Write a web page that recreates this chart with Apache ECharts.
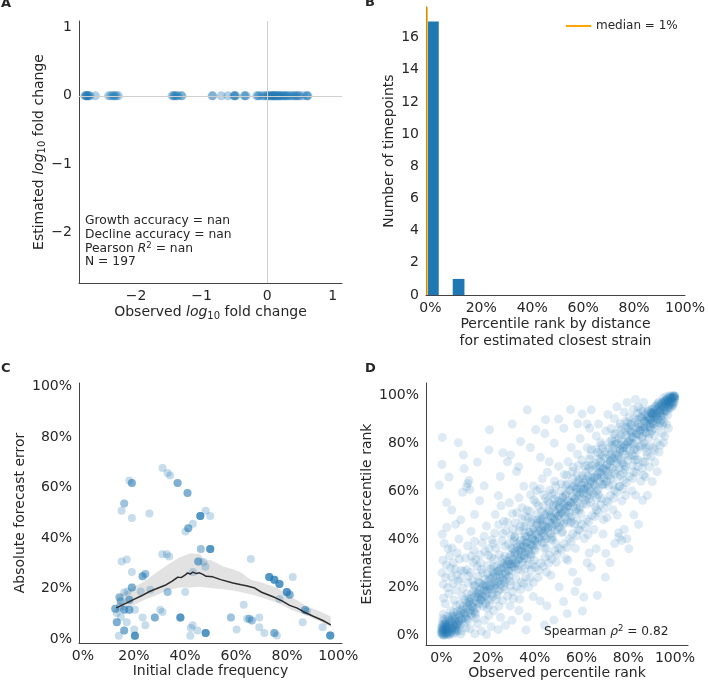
<!DOCTYPE html>
<html><head><meta charset="utf-8">
<script src="https://cdn.jsdelivr.net/npm/echarts@6/dist/echarts.min.js"></script>
<style>html,body{margin:0;padding:0;background:#fff}#c{width:708px;height:684px}</style>
</head><body><div id="c"></div>
<script>
// ---------- Panel A: observed vs estimated log10 fold change ----------
const foldChangePoints = [
[-2.78,0],[-2.77,0],[-2.76,0],[-2.75,0],[-2.74,0],[-2.73,0],[-2.72,0],[-2.70,0],[-2.62,0],
[-2.42,0],[-2.39,0],[-2.36,0],[-2.34,0],[-2.32,0],[-2.30,0],[-2.27,0],
[-1.45,0],[-1.43,0],[-1.42,0],[-1.40,0],[-1.38,0],[-1.36,0],[-1.31,0],[-1.30,0],
[-0.84,0],[-0.83,0],[-0.70,0],[-0.60,0],[-0.51,0],[-0.50,0],[-0.49,0],[-0.48,0],
[-0.35,0],[-0.34,0],[-0.32,0],[-0.16,0],[-0.14,0],[-0.12,0],[-0.08,0],[-0.05,0],[-0.02,0],
[0.00,0],[0.02,0],[0.03,0],[0.05,0],[0.06,0],[0.08,0],[0.09,0],[0.10,0],[0.11,0],[0.12,0],
[0.14,0],[0.15,0],[0.17,0],[0.18,0],[0.20,0],[0.21,0],[0.23,0],[0.25,0],[0.27,0],[0.28,0],
[0.30,0],[0.32,0],[0.35,0],[0.37,0],[0.40,0],[0.42,0],[0.44,0],[0.46,0],[0.48,0],[0.50,0],
[0.55,0],[0.60,0],[0.61,0],[0.62,0]
];
const xTicksA = [-2, -1, 0, 1];
const yTicksA = [-2, -1, 0, 1];

// ---------- Panel B: histogram of percentile ranks ----------
const histBins = [[-0.9, 3.3, 17], [8.8, 13.4, 1]];   // [bin start %, bin end %, timepoints]
const medianLabel = 'median = 1%';
const medianLineX = -1.3;                               // where the median line sits on the axis
const yTicksB = [0, 2, 4, 6, 8, 10, 12, 14, 16];
const pctTicks = [0, 20, 40, 60, 80, 100];

// ---------- Panel C: forecast error vs initial frequency ----------
// [initial clade frequency %, absolute forecast error %, number of overlapping clades]
const cladePoints = [
[31.2,67.8,1],[33.2,65.8,1],[34.2,64.9,1],[18.2,62.9,1],[15.2,50.9,1],[19.2,48.0,1],[26.1,49.8,1],
[48.1,50.9,1],[49.9,48.8,1],[43.1,45.7,1],[40.2,42.7,1],[31.1,33.7,1],[32.9,33.7,1],[33.8,32.8,1],
[15.2,30.8,1],[17.2,31.6,1],[19.2,26.6,1],[47.3,30.6,1],[48.0,28.7,1],[43.1,26.6,1],[16.2,18.5,1],
[17.5,18.9,1],[22.7,18.9,1],[26.4,19.6,1],[40.1,18.7,1],[13.3,10.4,1],[14.6,13.0,1],[20.4,11.7,1],
[14.9,8.8,1],[17.2,6.7,1],[23.4,8.6,1],[30.3,11.7,1],[31.2,10.8,1],[24.5,5.5,1],[14.1,1.4,1],
[20.1,3.8,1],[43.0,5.5,1],[42.3,4.4,1],[44.9,3.5,1],[42.1,1.4,1],[65.8,31.8,1],[82.2,24.6,1],
[77.0,15.9,1],[87.8,11.0,1],[63.0,13.7,1],[64.3,8.1,1],[69.1,8.6,1],[60.2,3.8,1],[69.1,4.7,1],
[71.1,2.5,1],[76.0,1.5,1],[86.1,6.7,1],[93.9,4.7,1],
[16.2,53.8,2],[46.2,35.7,2],[33.2,18.7,2],[58.0,8.6,2],[65.2,8.1,2],[66.2,7.4,2],[14.3,16.6,2],
[14.9,15.0,2],[24.5,25.8,2],
[19.2,61.9,3],[37.1,61.9,3],[41.0,57.9,3],[41.3,44.0,3],[45.2,30.8,3],[23.4,24.9,3],[19.2,20.5,3],
[18.2,15.6,3],[12.7,12.1,3],[16.2,11.7,3],[18.2,11.7,3],[13.3,6.7,3],[28.2,8.6,3],[16.2,3.5,3],
[81.0,17.6,3],[87.0,11.6,3],[75.0,2.5,3],
[46.0,48.8,5],[49.9,35.7,5],[38.2,8.6,5],[20.4,1.4,5],[48.1,2.5,5],[73.0,24.6,5],[75.0,23.6,5],
[77.0,21.9,5],[79.9,18.7,5],[96.9,1.5,5]
];
const rollingMean = [
[13.1,12.4],[16,13.8],[19.6,15.6],[23,17.2],[26.1,18.9],[29.5,20.3],[32.7,21.6],[35,23],[37.2,24.6],
[38.5,24.4],[40,25.4],[41.1,26.3],[42,25.8],[43.1,26.6],[44.5,26.0],[45.7,26.3],[47,25.7],[48.3,24.9],
[50.9,24.7],[54,23.6],[58.8,22.3],[62,21.6],[64,21.2],[67,20.4],[70,18.6],[72,17.8],[75,16.6],
[78,15.2],[81,13.4],[84,12.3],[86.2,11.0],[90,9.2],[94,7.4],[97.1,5.7]
];
// [frequency %, lower %, upper %]
const rollingBand = [
[13.1,10.0,17.2],[18,12.5,19.5],[24,15.5,22.9],[29,17.5,26.5],[33.2,19.5,29.5],[38,20.5,32.5],
[42.3,20.5,34.1],[46,20.8,33.8],[48,20.5,31.0],[50,20.3,31.5],[55,19.8,28.8],[59.3,19.2,27.5],
[62,18.6,26.4],[65.8,17.8,23.6],[70,16.5,22.5],[76.3,14.4,20.3],[82,11.5,16.5],[88,9.3,13.0],
[93,7.0,11.0],[97.1,4.7,9.0]
];

// ---------- Panel D: observed vs estimated percentile rank (sample read off the cloud) ----------
const rankPairs = [
[0.2,0.5],[1.1,0.3],[0.4,1.6],[2.3,0.8],[1.5,2.1],[0.1,3.2],[3.4,0.2],[2.7,2.9],[1.9,4.1],[4.2,1.4],[0.6,5.3],[5.1,0.7],[3.8,3.6],[2.2,5.8],[5.6,2.7],[4.7,4.9],[6.3,1.2],[1.3,6.6],[6.8,3.9],[3.1,7.2],[5.9,5.8],[7.4,6.1],[6.2,7.5],[8.1,4.4],[4.5,8.3],[7.8,8.2],[8.9,6.7],[9.4,9.1],[0.9,2.4],[2.8,1.7],[3.6,4.8],[4.9,3.1],[1.7,0.9],[0.3,4.4],[7.1,2.2],[2.5,7.9],[8.6,1.8],[9.8,5.2],[5.3,9.6],[6.9,9.9],[10.2,7.4],[0.8,8.9],[3.9,10.3],[10.6,3.1],[9.1,10.8],[1.4,3.7],[3.3,2.5],[4.1,6.2],[6.5,4.6],[5.7,1.9],[2.1,3.3],[7.6,5.4],[0.5,6.9],[8.3,9.3],[0.0,0.9],[1.8,1.4],[2.9,0.4],[0.7,2.8],[4.4,2.2],[2.4,4.6],
[0.6,0.4],[1.9,2.6],[0.2,1.9],[3.0,1.2],[1.2,4.4],[4.6,2.9],[2.6,3.8],[5.2,4.3],[3.7,5.6],[0.9,1.1],[2.0,0.2],[0.1,2.7],[6.0,3.3],[3.5,6.4],[1.6,5.1],[4.0,0.9],[7.0,4.8],[4.8,7.1],[0.4,3.8],[2.6,1.3],[1.0,0.0],[0.0,1.4],[5.8,6.6],[3.2,4.1],[1.7,3.0],
[10.3,8.2],[10.8,13.7],[11.2,11.9],[11.5,6.3],[11.9,15.4],[12.3,12.8],[12.6,9.1],[13.0,17.2],[13.4,13.5],[13.7,10.4],[14.1,16.0],[14.4,20.6],[14.8,14.2],[15.1,11.3],[15.5,18.1],[15.8,15.9],[16.2,13.1],[16.5,21.8],[16.9,17.3],[17.2,14.6],[17.6,19.9],[17.9,12.2],[18.3,18.8],[18.7,23.4],[19.0,16.7],[19.4,20.3],[19.8,15.1],[20.1,22.7],[10.5,11.1],[12.0,14.3],[13.2,12.0],[14.6,8.9],[15.9,17.5],[16.7,15.3],[18.0,20.9],[19.2,18.6],[11.7,9.6],[13.9,18.9],[17.4,16.2],[19.6,25.8],
[20.4,19.2],[20.7,14.8],[21.1,23.9],[21.5,21.0],[21.8,17.6],[22.2,26.4],[22.5,22.3],[22.9,19.5],[23.3,24.8],[23.6,28.9],[24.0,22.1],[24.3,18.4],[24.7,26.9],[25.1,24.2],[25.4,21.3],[25.8,30.2],[26.1,25.7],[26.5,22.8],[26.9,28.4],[27.2,33.1],[27.6,26.3],[27.9,23.6],[28.3,29.8],[28.7,27.1],[29.0,24.5],[29.4,32.6],[29.7,29.9],[30.1,26.8],[20.9,20.6],[22.0,24.5],[23.1,21.4],[24.5,25.3],[25.6,27.8],[26.7,20.4],[27.8,29.2],[28.9,31.0],[21.3,27.7],[23.8,16.9],[26.3,31.9],[29.2,22.7],
[30.4,31.8],[30.8,35.9],[31.1,28.6],[31.5,33.4],[31.9,30.1],[32.2,38.2],[32.6,33.7],[33.0,29.3],[33.3,35.5],[33.7,32.4],[34.1,39.6],[34.4,34.9],[34.8,30.7],[35.1,37.1],[35.5,33.3],[35.9,41.4],[36.2,36.6],[36.6,32.0],[37.0,38.9],[37.3,35.2],[37.7,43.1],[38.1,38.0],[38.4,33.8],[38.8,40.5],[39.1,37.3],[39.5,44.8],[39.9,39.7],[40.2,35.4],[30.6,29.8],[31.7,35.0],[32.9,31.6],[34.0,36.8],[35.3,31.9],[36.4,38.4],[37.5,34.0],[38.6,41.9],[39.7,36.1],[31.3,40.7],[33.9,27.2],[36.9,29.5],
[40.5,42.3],[40.9,46.8],[41.3,39.1],[41.6,44.0],[42.0,40.6],[42.4,48.5],[42.7,43.9],[43.1,38.7],[43.5,45.9],[43.8,42.0],[44.2,50.3],[44.6,45.4],[44.9,40.2],[45.3,47.6],[45.7,43.5],[46.0,52.0],[46.4,47.1],[46.8,42.4],[47.1,49.3],[47.5,45.6],[47.9,54.2],[48.2,48.7],[48.6,43.8],[49.0,51.1],[49.3,47.2],[49.7,55.9],[50.1,50.0],[50.4,45.1],[40.7,37.6],[41.9,43.2],[43.0,47.9],[44.1,41.3],[45.4,44.6],[46.6,49.9],[47.7,41.1],[48.8,46.1],[49.9,52.6],[42.9,51.7],[45.0,36.4],[48.4,56.8],
[50.6,52.9],[51.0,47.0],[51.4,55.6],[51.7,50.8],[52.1,46.3],[52.5,54.4],[52.8,49.5],[53.2,58.3],[53.6,53.1],[53.9,48.1],[54.3,56.2],[54.7,51.4],[55.0,60.4],[55.4,55.3],[55.8,49.9],[56.1,58.0],[56.5,53.6],[56.9,62.1],[57.2,57.0],[57.6,51.8],[58.0,59.6],[58.3,55.7],[58.7,64.0],[59.1,58.9],[59.4,53.5],[59.8,61.2],[60.2,57.4],[60.5,65.3],[50.9,50.6],[52.0,57.8],[53.1,51.7],[54.4,53.9],[55.6,47.4],[56.7,55.5],[57.8,60.9],[58.9,52.2],[60.0,62.8],[51.6,42.8],[54.0,63.0],[57.0,46.5],
[60.8,59.1],[61.2,63.7],[61.6,56.4],[61.9,61.5],[62.3,58.2],[62.7,66.4],[63.0,61.9],[63.4,57.0],[63.8,64.6],[64.1,60.1],[64.5,68.7],[64.9,63.5],[65.2,59.0],[65.6,66.0],[66.0,62.3],[66.3,70.2],[66.7,65.8],[67.1,60.6],[67.4,67.9],[67.8,64.2],[68.2,72.5],[68.5,67.3],[68.9,62.8],[69.3,69.4],[69.6,65.7],[70.0,73.9],[70.4,69.0],[70.7,64.3],[61.0,61.1],[62.1,54.7],[63.2,60.3],[64.4,65.9],[65.5,62.9],[66.6,57.3],[67.6,70.8],[68.7,66.1],[69.8,63.1],[62.5,70.9],[65.9,53.6],[68.0,75.8],
[71.0,71.6],[71.4,66.9],[71.8,75.3],[72.1,70.4],[72.5,65.2],[72.9,74.1],[73.2,69.6],[73.6,77.9],[74.0,72.7],[74.3,67.5],[74.7,76.2],[75.1,71.8],[75.4,80.1],[75.8,75.0],[76.2,69.9],[76.5,77.6],[76.9,73.3],[77.3,81.7],[77.6,76.8],[78.0,71.2],[78.4,79.5],[78.7,75.6],[79.1,83.4],[79.5,78.2],[79.8,73.0],[80.2,81.0],[80.6,76.9],[80.9,85.2],[71.2,68.4],[72.3,73.0],[73.4,62.9],[74.5,79.7],[75.6,73.6],[76.7,66.8],[77.8,78.4],[78.9,70.4],[79.9,80.5],[73.0,81.3],[76.0,62.1],[79.3,86.9],
[81.3,80.3],[81.7,75.2],[82.1,84.6],[82.4,79.9],[82.8,74.6],[83.2,86.7],[83.5,81.5],[83.9,77.3],[84.3,88.1],[84.6,83.6],[85.0,78.8],[85.4,87.2],[85.7,82.9],[86.1,90.4],[86.5,85.8],[86.8,80.2],[87.2,89.3],[87.6,84.7],[87.9,91.6],[88.3,87.5],[88.7,82.4],[89.0,90.8],[89.4,86.9],[89.8,93.0],[81.5,83.0],[82.6,77.6],[83.7,84.0],[84.9,85.6],[86.0,79.4],[87.0,86.3],[88.1,89.9],[89.2,84.1],[90.2,88.4],[81.0,88.2],[84.0,73.4],[86.3,93.5],[88.9,78.9],[90.0,92.4],[82.0,70.9],[85.2,91.0],
[5.3,7.9],[6.1,4.2],[6.8,8.7],[7.5,5.9],[8.2,10.4],[8.8,7.1],[9.5,12.2],[10.1,9.3],[10.9,6.8],[11.6,13.9],[12.2,10.6],[12.9,15.5],[13.5,11.8],[14.2,9.7],[14.9,17.3],[15.6,13.4],[16.3,18.9],[16.9,14.7],[17.7,21.2],[18.4,16.1],[19.1,20.7],[19.8,17.9],[20.5,23.8],[21.2,19.4],[21.9,16.2],[22.6,25.7],[23.3,20.9],[24.0,26.8],[24.7,22.6],[25.4,28.3],[6.5,2.1],[9.9,14.8],[13.1,8.1],[16.0,22.4],[18.9,13.2],[22.3,28.6],[24.9,19.1],[7.9,12.9],[11.0,17.4],[14.0,20.9],
[26.1,24.0],[26.8,29.9],[27.5,25.4],[28.2,31.3],[28.9,26.8],[29.6,33.5],[30.3,28.7],[31.0,34.6],[31.7,30.2],[32.4,36.8],[33.1,31.6],[33.8,37.9],[34.5,33.4],[35.2,39.7],[35.9,34.8],[36.6,41.2],[37.3,36.3],[38.0,42.9],[38.7,37.7],[39.4,44.1],[40.1,39.5],[40.8,45.9],[41.5,40.8],[42.2,47.4],[42.9,42.5],[43.6,48.8],[44.3,43.9],[45.0,50.6],[27.0,21.9],[30.0,36.4],[32.7,27.5],[35.6,42.7],[38.3,32.9],[41.2,48.3],[44.0,38.8],[29.3,29.7],[34.2,35.8],[39.0,40.6],[43.3,45.2],[36.0,39.0],
[45.7,45.3],[46.4,51.5],[47.1,46.6],[47.8,53.2],[48.5,48.1],[49.2,54.6],[49.9,49.7],[50.6,56.3],[51.3,51.2],[52.0,57.4],[52.7,52.6],[53.4,59.1],[54.1,54.0],[54.8,60.8],[55.5,55.4],[56.2,62.0],[56.9,56.9],[57.6,63.7],[58.3,58.3],[59.0,65.1],[59.7,59.6],[60.4,66.6],[61.1,61.2],[61.8,68.0],[62.5,62.5],[63.2,69.7],[63.9,64.0],[64.6,71.1],[46.9,40.5],[49.6,44.1],[52.4,46.9],[55.1,49.3],[57.9,52.8],[60.6,55.0],[63.4,58.5],[48.0,49.4],[53.0,55.1],[58.0,61.6],[62.0,64.9],[50.5,53.7],
[65.3,65.4],[66.0,71.9],[66.7,66.8],[67.4,73.6],[68.1,68.2],[68.8,74.8],[69.5,69.7],[70.2,76.5],[70.9,71.1],[71.6,77.9],[72.3,72.6],[73.0,79.3],[73.7,74.0],[74.4,80.8],[75.1,75.5],[75.8,82.2],[76.5,76.9],[77.2,83.6],[77.9,78.4],[78.6,85.0],[79.3,79.8],[80.0,86.4],[80.7,81.3],[81.4,87.6],[82.1,82.7],[82.8,88.9],[83.5,84.2],[84.2,90.1],[66.4,60.2],[69.2,63.0],[71.9,66.3],[74.7,68.9],[77.5,72.0],[80.3,74.8],[83.1,78.1],[68.0,70.0],[72.7,75.9],[76.8,79.3],[81.2,84.5],[84.6,86.8],
[85.2,85.6],[85.9,91.2],[86.6,87.0],[87.3,92.3],[88.0,88.4],[88.7,93.4],[89.4,89.8],[90.1,94.4],[90.8,91.1],[91.5,95.3],[92.2,92.5],[92.9,96.1],[93.6,93.8],[94.3,96.9],[95.0,95.1],[95.7,97.7],[96.4,96.3],[97.1,98.4],[97.8,97.6],[98.5,99.2],[86.1,82.3],[87.7,84.5],[89.3,86.6],[90.9,88.3],[92.5,90.0],[94.1,91.7],[95.7,93.5],[97.3,95.2],[98.9,97.1],[99.7,99.3],[86.9,89.4],[88.6,90.9],[90.3,92.7],[92.0,94.3],[93.7,95.6],[95.4,96.8],[97.0,97.3],[98.2,98.9],[99.2,99.4],[99.9,99.8],
[99.8,99.6],[99.3,99.9],[98.7,99.1],[99.9,98.4],[98.1,98.6],[97.6,99.4],[98.9,97.5],[97.2,97.8],[96.5,98.3],[97.9,96.4],[96.0,96.9],[95.4,97.6],[96.8,95.2],[95.1,95.5],[94.3,96.2],[95.7,93.9],[94.0,94.4],[93.2,95.1],[94.8,92.7],[93.5,92.9],[92.4,94.0],[93.9,91.3],[92.0,92.1],[91.1,93.2],[92.7,90.4],[91.5,90.9],[90.4,91.8],[91.8,88.9],[90.8,89.6],[89.6,90.2],[99.5,98.8],[98.3,99.8],[97.0,98.9],[98.6,96.1],[96.3,99.6],[99.0,95.7],[95.9,98.1],[97.4,94.6],[94.6,97.3],[96.6,93.5],[93.1,97.4],[95.3,91.4],[91.9,95.8],[94.2,89.8],[90.6,94.5],[93.6,88.6],[89.9,92.9],[92.9,87.4],[89.3,88.3],[91.3,86.2],[100.0,100.0],[99.6,97.2],[97.7,100.0],[98.4,95.0],[95.0,99.0],[96.9,91.9],[92.6,96.7],[94.7,87.9],[88.5,94.1],[90.1,85.4],[99.1,100.0],[100.0,99.0],[98.0,97.0],[96.2,97.5],[97.3,96.0],[95.6,94.8],[93.8,93.6],[92.2,91.4],[90.9,92.6],[99.4,96.5],
[1.6,13.2],[3.2,17.4],[0.8,21.3],[4.3,24.6],[2.1,29.4],[5.4,14.7],[6.2,18.8],[0.3,26.1],[3.4,33.2],[7.3,22.6],[1.2,38.4],[5.1,30.3],[8.4,27.1],[0.4,42.2],[4.6,36.5],[9.2,19.7],[6.7,34.4],[2.3,45.1],[7.5,40.2],[10.3,32.3],[12.4,26.2],[11.2,37.4],[13.6,30.5],[15.3,28.7],[14.2,39.3],[16.4,33.6],[18.3,41.4],[17.1,27.5],[12.7,43.4],[20.4,36.2],[19.3,45.6],[22.2,38.3],[24.5,46.2],[21.4,32.6],[23.1,50.4],[26.3,42.5],[28.2,47.3],[25.5,54.1],[27.4,37.2],[30.6,44.4],[32.3,51.2],[29.1,55.3],[31.4,41.2],[34.5,48.6],[33.2,57.4],[36.7,52.3],[35.3,45.3],[38.2,58.7],[37.4,49.1],[40.5,55.4],[42.3,61.2],[39.4,62.3],[44.6,57.2],[43.2,65.4],[46.3,60.6],[45.4,68.1],[48.5,64.3],[50.2,70.5],[47.3,59.2],[52.6,67.1],[54.2,72.4],[51.3,63.3],[56.4,70.2],[58.3,75.6],[55.6,78.4],[60.2,73.2],[62.5,78.3],[59.4,82.1],[64.2,77.5],[66.3,83.2],[63.5,86.4],[68.2,80.6],[70.4,85.3],[67.3,88.2],[72.6,86.3],[74.1,90.4],[71.3,92.2],[76.6,88.4],[78.3,93.2],[75.2,95.4],[80.4,91.1],[82.2,94.3],[79.5,97.2],[84.3,95.2],[83.1,98.4],[86.6,97.3],
[8.8,16.4],[11.4,21.9],[15.6,24.7],[19.9,29.3],[24.8,33.7],[28.6,38.1],[33.4,43.6],[38.9,48.2],[43.7,53.9],[48.1,58.8],[53.3,62.7],[58.1,67.3],[63.6,73.4],[69.1,78.2],[74.4,83.9],[79.7,88.6],[85.5,94.1],[6.4,12.5],[13.3,22.8],[17.7,26.1],[22.6,31.8],[31.0,39.4],[36.1,45.7],[41.1,50.6],[46.2,55.3],[51.2,60.2],[56.3,65.4],[61.4,70.6],[66.9,76.4],[72.0,80.8],[77.1,85.7],[82.5,90.6],
[0.9,15.6],[2.7,19.9],[4.9,21.7],[1.8,24.3],[6.6,25.2],[3.9,28.1],[8.1,23.5],[0.6,31.4],[5.8,27.6],[9.6,26.8],[2.9,36.2],[7.7,31.9],[10.9,27.4],[12.8,33.1],[11.6,24.8],[14.7,31.7],[13.9,35.6],[16.8,30.2],[18.6,35.1],[17.5,38.6],[20.1,33.4],[21.7,39.9],[23.4,36.4],[22.8,42.7],[25.9,39.5],[27.6,43.8],[26.7,47.6],[29.8,41.6],[31.6,46.9],[30.4,50.8],[33.7,45.4],[35.8,49.6],[34.6,53.3],[37.9,51.8],[39.6,56.5],[38.3,47.2],[41.5,54.1],[43.9,58.6],[40.9,60.4],[45.6,56.1],
[48.9,62.3],[53.7,66.8],[58.8,70.9],[63.9,75.1],[68.7,79.4],[73.8,84.1],[78.8,89.2],[83.9,92.7],[56.1,68.4],[66.1,77.8],[76.1,86.9],
[8.3,0.6],[12.2,2.8],[15.4,4.9],[14.3,0.7],[18.5,6.3],[20.3,8.4],[17.2,1.8],[22.4,10.3],[24.6,12.2],[21.3,3.6],[26.2,14.5],[28.4,16.3],[25.3,7.6],[30.5,18.2],[32.2,20.4],[29.4,12.3],[34.3,22.2],[36.1,24.5],[33.5,15.2],[38.4,27.3],[40.2,28.4],[37.3,20.1],[42.5,30.2],[44.3,32.6],[41.4,24.2],[46.2,33.4],[48.5,35.2],[45.1,26.3],[50.3,36.4],[52.4,38.2],[49.2,30.5],[54.6,40.3],[56.2,42.4],[53.3,32.1],[58.5,44.2],[60.1,46.3],[57.4,36.3],[62.3,48.4],[64.6,50.1],[61.2,40.4],[66.4,52.3],[68.2,54.5],[65.3,44.2],[70.6,56.1],[72.3,58.4],[69.4,48.3],[74.1,60.5],[76.4,62.2],[73.5,52.4],[78.2,64.6],[80.5,66.3],[77.3,56.1],[82.4,68.2],[84.1,70.5],[81.6,60.3],[86.3,72.4],[88.2,75.1],[85.4,64.3],[90.6,78.2],[92.3,80.4],[89.1,70.2],[94.5,84.3],[93.2,76.5],[96.4,88.1],
[14.8,7.1],[19.6,11.4],[23.4,15.1],[27.1,19.3],[31.8,23.8],[35.9,27.9],[39.8,31.4],[44.0,36.2],[47.4,39.8],[51.9,43.3],[55.2,46.9],[59.6,51.0],[63.9,55.4],[67.3,58.6],[71.6,62.4],[75.3,66.1],[78.6,69.3],[83.0,73.2],[87.4,78.4],[91.2,83.5],[95.2,88.9],[20.6,12.6],[29.8,20.8],[39.0,29.6],[48.9,38.3],[58.4,48.0],[68.6,57.1],[77.9,67.8],[87.8,76.6],
[30.8,15.4],[33.9,19.1],[35.2,21.6],[37.9,23.8],[39.4,22.1],[41.8,27.2],[43.6,28.9],[45.8,30.1],[47.3,31.8],[49.7,33.9],[51.4,35.6],[53.8,36.7],[55.6,39.1],[57.9,41.6],[59.3,43.8],[61.7,45.2],[63.1,47.4],[65.8,49.6],[67.2,51.3],[69.8,52.9],[71.4,55.6],[73.9,57.3],[75.1,59.8],[77.8,61.2],[79.2,63.7],[81.9,65.4],[83.4,67.9],[85.9,69.8],[87.1,72.3],[89.8,74.6],[91.3,77.2],[93.8,79.4],[95.6,83.1],[97.2,86.4],[62.8,42.1],[70.9,49.2],[78.9,58.4],[86.6,66.9],[54.2,31.3],[46.9,25.1],
[0.4,82.6],[-0.9,62.7],[0.2,71.3],[9.7,69.6],[11.3,63.4],[12.2,60.8],[9.1,59.7],[4.4,52.3],[2.2,55.4],[8.3,48.2],[6.1,46.3],[20.6,85.8],[20.4,77.4],[29.6,75.3],[36.8,94.1],[44.6,90.0],[40.4,85.8],[33.9,80.9],[28.3,72.4],[25.2,66.3],[16.4,56.2],[18.3,62.4],[32.2,68.3],[38.1,78.4],[44.3,84.2],[50.2,90.3],[52.4,86.4],[48.3,80.2],[42.4,74.3],[55.3,94.2],[58.4,88.3],[46.2,72.4],[35.3,62.2],[24.4,58.3],[14.2,50.4],[60.3,92.4],[64.2,94.1],[62.4,88.2],[33.1,70.4],[26.3,76.2],[15.4,72.3],[7.2,80.4],[30.3,88.2],[3.3,66.1],[9.4,75.3],[10.8,61.9],[11.8,64.6],
[61.0,16.0],[66.8,16.7],[76.0,41.0],[53.9,9.1],[36.8,7.7],[45.2,12.3],[58.3,22.4],[64.2,28.3],[70.4,34.2],[74.2,38.3],[78.3,44.2],[82.4,50.3],[86.2,56.4],[80.3,36.2],[84.4,46.3],[88.2,58.4],[90.3,64.2],[92.4,68.3],[72.2,30.4],[66.3,36.2],[62.4,30.3],[56.2,26.4],[50.4,20.2],[42.3,14.4],[30.2,6.3],[24.3,2.4],[44.2,4.3],[60.4,10.2],[70.2,24.3],[52.3,14.1],[48.2,6.4],[75.3,50.2],[79.4,40.3],[83.2,58.4],[87.3,66.2],[91.4,72.3],[95.2,80.4],[69.2,42.3],[63.3,34.4],[57.2,18.3],[39.3,16.2],[33.2,10.4],[27.4,4.2],[19.3,0.4],[36.2,2.3],[77.2,39.6],[75.8,42.8]
];
const spearmanText = 'Spearman {i|ρ}{sup|2} = 0.82';

// ---------- styling ----------
const BLUE = '#1f77b4', TXT = '#262626', AX = '#444444', FONT = 'DejaVu Sans';
const FS = 14;
const minus = v => (v < 0 ? '\u2212' + Math.abs(v) : String(v));
const pct = v => v + '%';
const rich = {
  i: {fontStyle: 'italic', fontSize: FS, color: TXT, fontFamily: FONT},
  sub: {fontSize: 10, color: TXT, fontFamily: FONT, verticalAlign: 'bottom', padding: [7, 0, 0, 0]}
};

function axis(kind, grid, min, max, ticks, fmt, name, gap, extra) {
  return Object.assign({
    type: 'value', gridIndex: grid, min: min, max: max,
    axisLine: {show: true, onZero: false, lineStyle: {color: AX, width: 1}},
    axisTick: {show: false},
    splitLine: {show: false},
    axisLabel: {color: TXT, fontSize: FS, fontFamily: FONT, margin: kind === 'x' ? 6 : 7,
                customValues: ticks, formatter: fmt},
    name: name, nameLocation: 'middle', nameGap: gap,
    nameTextStyle: {color: TXT, fontSize: FS, fontFamily: FONT, rich: rich}
  }, extra || {});
}

const cladeExpanded = [];
cladePoints.forEach(p => { for (let k = 0; k < p[2]; k++) cladeExpanded.push([p[0], p[1]]); });

const B_YMAX = 17.9;

const option = {
  animation: false,
  backgroundColor: '#fff',
  grid: [
    {left: 79, top: 21, width: 263, height: 262},
    {left: 426, top: 7, width: 262, height: 288},
    {left: 79, top: 383, width: 263, height: 260},
    {left: 426, top: 383, width: 262, height: 262}
  ],
  xAxis: [
    axis('x', 0, -2.87, 1.14, xTicksA, minus, 'Observed {i|log}{sub|10} fold change', 21),
    axis('x', 1, -1.7, 100, pctTicks, pct, 'Percentile rank by distance\nfor estimated closest strain', 21,
         {nameTextStyle: {color: TXT, fontSize: FS, fontFamily: FONT, lineHeight: 17}}),
    axis('x', 2, -1.5, 101.5, pctTicks, pct, 'Initial clade frequency', 21),
    axis('x', 3, -6.6, 105.6, pctTicks, pct, 'Observed percentile rank', 21)
  ],
  yAxis: [
    axis('y', 0, -2.75, 1.1, yTicksA, minus, 'Estimated {i|log}{sub|10} fold change', 30),
    axis('y', 1, 0, B_YMAX, yTicksB, String, 'Number of timepoints', 30),
    axis('y', 2, -1.5, 101.5, pctTicks, pct, 'Absolute forecast error', 52),
    axis('y', 3, -4, 105.3, pctTicks, pct, 'Estimated percentile rank', 52)
  ],
  legend: {
    data: [medianLabel], left: 561, top: 15, icon: 'rect', itemWidth: 25, itemHeight: 2,
    textStyle: {color: TXT, fontSize: 12, fontFamily: FONT}
  },
  graphic: [
    {type: 'text', left: 1, top: -3, style: {text: 'A', font: 'bold 13px "DejaVu Sans"', fill: TXT}},
    {type: 'text', left: 365, top: -4, style: {text: 'B', font: 'bold 13px "DejaVu Sans"', fill: TXT}},
    {type: 'text', left: 1, top: 362, style: {text: 'C', font: 'bold 13px "DejaVu Sans"', fill: TXT}},
    {type: 'text', left: 365, top: 362, style: {text: 'D', font: 'bold 13px "DejaVu Sans"', fill: TXT}},
    {type: 'text', left: 85, top: 214, style: {
      text: 'Growth accuracy = nan\nDecline accuracy = nan\nPearson {i|R}{sup|2} = nan\nN = 197',
      font: '12.3px "DejaVu Sans"', fill: TXT, lineHeight: 13.8,
      rich: {
        i: {fontStyle: 'italic', fontSize: 12.3, fontFamily: FONT, fill: TXT, lineHeight: 13.8},
        sup: {fontSize: 8.5, fontFamily: FONT, fill: TXT, verticalAlign: 'top', lineHeight: 13.8}
      }}},
    {type: 'text', left: 544, top: 624, style: {
      text: spearmanText, font: '12.2px "DejaVu Sans"', fill: TXT, lineHeight: 15,
      rich: {
        i: {fontStyle: 'italic', fontSize: 12.2, fontFamily: FONT, fill: TXT, lineHeight: 15},
        sup: {fontSize: 8.5, fontFamily: FONT, fill: TXT, verticalAlign: 'top', lineHeight: 15}
      }}}
  ],
  series: [
    {type: 'scatter', xAxisIndex: 0, yAxisIndex: 0, data: [], z: 1, silent: true,
     markLine: {silent: true, symbol: 'none', label: {show: false}, animation: false,
                lineStyle: {color: '#cfcfcf', width: 1, type: 'solid'},
                data: [{xAxis: 0}, {yAxis: 0}]}},
    {type: 'scatter', xAxisIndex: 0, yAxisIndex: 0, data: foldChangePoints, z: 3,
     symbolSize: 9, itemStyle: {color: BLUE, opacity: 0.35}},
    {type: 'custom', xAxisIndex: 1, yAxisIndex: 1, data: histBins, z: 2,
     encode: {x: [0, 1], y: 2},
     renderItem: function (params, api) {
       const a = api.coord([api.value(0), api.value(2)]);
       const b = api.coord([api.value(1), 0]);
       return {type: 'rect', shape: {x: a[0], y: a[1], width: b[0] - a[0], height: b[1] - a[1]},
               style: {fill: BLUE}};
     }},
    {type: 'line', name: medianLabel, xAxisIndex: 1, yAxisIndex: 1, z: 3,
     data: [[medianLineX, 0], [medianLineX, B_YMAX]], symbol: 'none',
     lineStyle: {color: '#ffa500', width: 1.5}, itemStyle: {color: '#ffa500'}},
    {type: 'custom', xAxisIndex: 2, yAxisIndex: 2, data: rollingBand, z: 1,
     encode: {x: 0, y: [1, 2]},
     renderItem: function (params, api) {
       if (params.dataIndex !== 0) return null;
       const pts = [];
       rollingBand.forEach(r => pts.push(api.coord([r[0], r[2]])));
       for (let k = rollingBand.length - 1; k >= 0; k--) pts.push(api.coord([rollingBand[k][0], rollingBand[k][1]]));
       return {type: 'polygon', shape: {points: pts}, style: {fill: '#e2e2e2'}};
     }},
    {type: 'scatter', xAxisIndex: 2, yAxisIndex: 2, data: cladeExpanded, z: 2,
     symbolSize: 8, itemStyle: {color: BLUE, opacity: 0.25}},
    {type: 'line', xAxisIndex: 2, yAxisIndex: 2, data: rollingMean, z: 3, symbol: 'none',
     lineStyle: {color: '#2b2b2b', width: 1.5}},
    {type: 'scatter', xAxisIndex: 3, yAxisIndex: 3, data: rankPairs, z: 2, large: false, progressive: 0,
     symbolSize: 9, itemStyle: {color: BLUE, opacity: 0.15}}
  ]
};

const chart = echarts.init(document.getElementById('c'), null, {renderer: 'canvas'});
chart.setOption(option);
</script>
</body></html>
